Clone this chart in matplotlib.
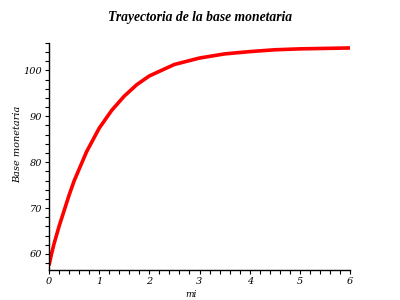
import numpy as np
import matplotlib
matplotlib.use("Agg")
import matplotlib.pyplot as plt
from matplotlib.ticker import MultipleLocator

# values
x_vals = [0.0, 0.05, 0.1, 0.2, 0.3, 0.4, 0.5, 0.75, 1.0, 1.25, 1.5, 1.75, 2.0,
          2.5, 3.0, 3.5, 4.0, 4.5, 5.0, 5.5, 6.0]
y_vals = [57.5, 60.0, 62.2, 66.0, 69.4, 72.8, 75.9, 82.3, 87.4, 91.3, 94.4, 96.9, 98.8,
          101.3, 102.7, 103.6, 104.1, 104.5, 104.7, 104.8, 104.9]

titulo = "Trayectoria de la base monetaria"
ylab = "Base monetaria"
xlab = "mi"

fig = plt.figure(figsize=(4, 3), dpi=100)
ax = fig.add_axes([0.1225, 0.1, 0.7525, 0.757])

ax.plot(x_vals, y_vals, color="red", lw=2.6, solid_capstyle="butt")

ax.set_xlim(0, 6)
ax.set_ylim(56.5, 106)

for s in ["top", "right"]:
    ax.spines[s].set_visible(False)
for s in ["left", "bottom"]:
    ax.spines[s].set_linewidth(1.0)

ax.xaxis.set_major_locator(MultipleLocator(1))
ax.xaxis.set_minor_locator(MultipleLocator(0.2))
ax.yaxis.set_major_locator(MultipleLocator(10))
ax.yaxis.set_minor_locator(MultipleLocator(2))
ax.tick_params(which="both", direction="out", length=3, width=0.8, pad=2)
ax.tick_params(labelsize=7)
for lbl in ax.get_xticklabels() + ax.get_yticklabels():
    lbl.set_fontstyle("italic")
    lbl.set_family("DejaVu Serif")

fig.text(0.5, 0.94, titulo, ha="center", va="center", fontsize=9.8,
         fontweight="bold", fontstyle="italic", family="Liberation Serif")
fig.text(0.045, 0.52, ylab, rotation=90, ha="center", va="center", fontsize=7,
         fontstyle="italic", family="DejaVu Serif")
fig.text(0.4775, 0.002, xlab, ha="center", va="bottom", fontsize=6.5,
         fontstyle="italic", family="DejaVu Serif")

fig.savefig("out.png", dpi=100)
